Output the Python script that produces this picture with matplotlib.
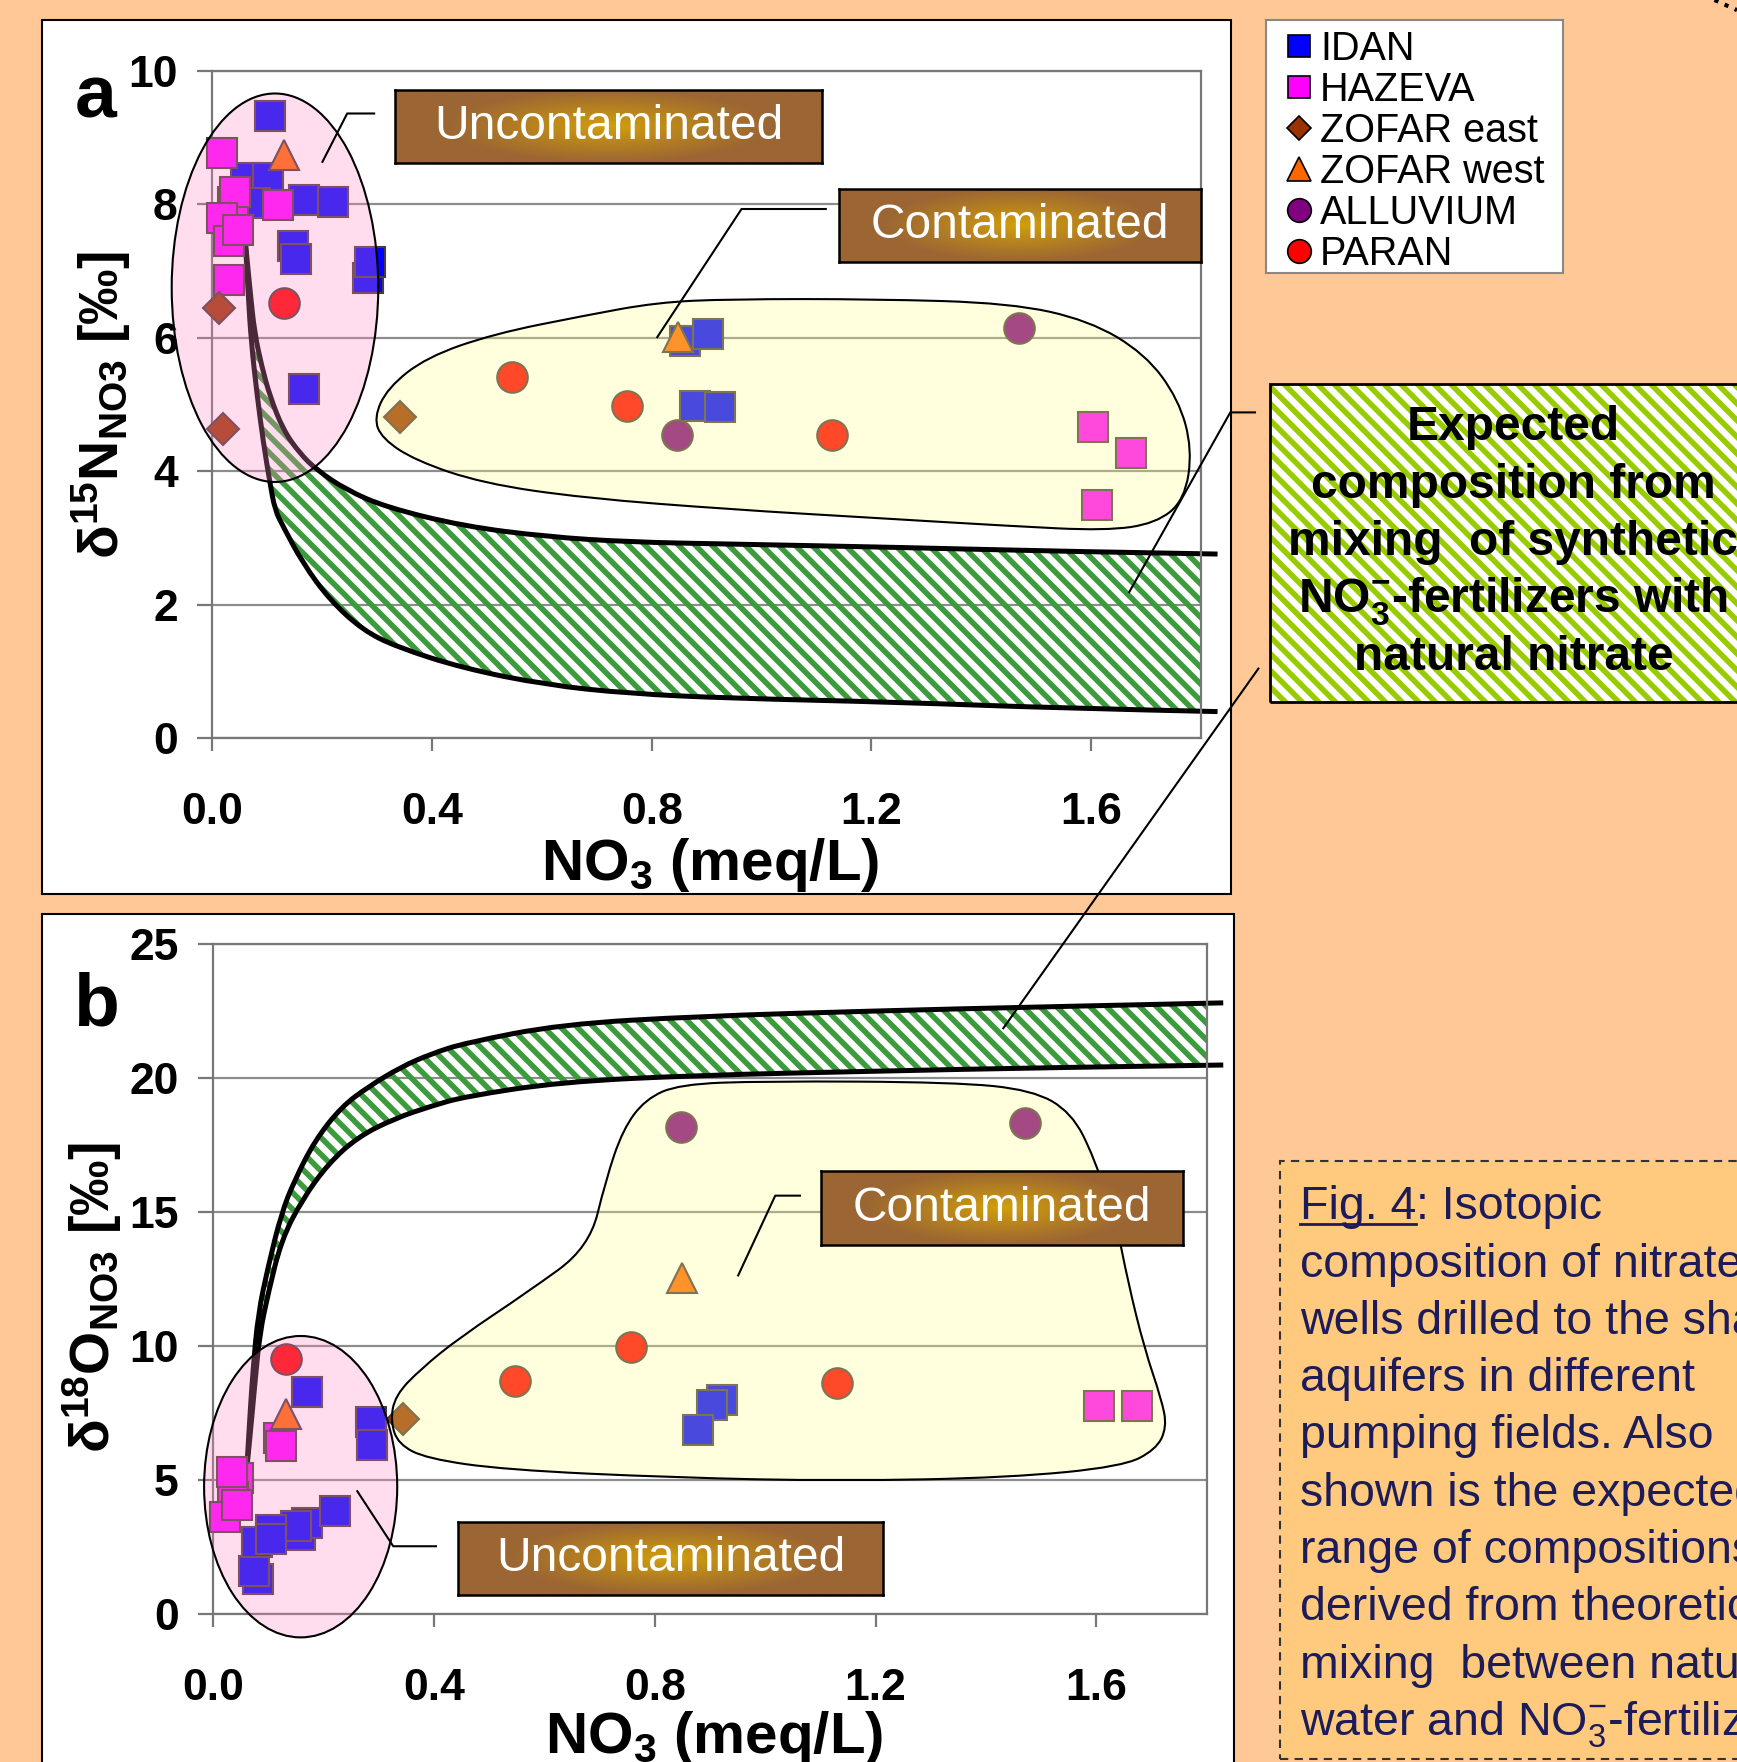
import numpy as np
import matplotlib
matplotlib.use('Agg')
import matplotlib.pyplot as plt
from matplotlib.path import Path
from matplotlib.patches import PathPatch, Ellipse, Rectangle
from matplotlib.lines import Line2D
from matplotlib.ticker import FormatStrFormatter

plt.rcParams['font.family'] = ['Liberation Sans', 'DejaVu Sans']
plt.rcParams['mathtext.fontset'] = 'custom'
plt.rcParams['mathtext.rm'] = 'Liberation Sans'
plt.rcParams['mathtext.bf'] = 'Liberation Sans:bold'
plt.rcParams['mathtext.it'] = 'Liberation Sans:italic'
plt.rcParams['hatch.linewidth'] = 4.0

# ---------------- data ----------------
# panel a : d15N vs NO3
a_idan_x = [0.105, 0.062, 0.102, 0.077, 0.167, 0.219, 0.146, 0.153, 0.284, 0.287, 0.167, 0.860, 0.903, 0.879, 0.924]
a_idan_y = [9.32, 8.39, 8.39, 8.02, 8.06, 8.04, 7.38, 7.18, 6.89, 7.14, 5.24, 5.95, 6.06, 4.98, 4.97]
a_haz_x = [0.017, 0.038, 0.041, 0.017, 0.031, 0.046, 0.031, 0.120, 1.604, 1.673, 1.610]
a_haz_y = [8.77, 8.04, 8.19, 7.79, 7.45, 7.62, 6.87, 7.99, 4.66, 4.28, 3.50]
a_zeast_x = [0.012, 0.020, 0.341]
a_zeast_y = [6.44, 4.64, 4.81]
a_zwest_x = [0.130, 0.848]
a_zwest_y = [8.74, 6.01]
a_alluv_x = [1.469, 0.846]
a_alluv_y = [6.14, 4.55]
a_paran_x = [0.130, 0.546, 0.754, 1.128]
a_paran_y = [6.52, 5.42, 4.98, 4.55]

# mixing envelope, panel a
a_up_x = [0.060, 0.069, 0.077, 0.090, 0.105, 0.129, 0.159, 0.190, 0.244, 0.317, 0.456, 0.608, 0.759, 0.941, 1.25, 1.55, 1.83]
a_up_y = [7.45, 6.67, 6.07, 5.57, 5.12, 4.62, 4.27, 4.02, 3.72, 3.46, 3.18, 3.02, 2.94, 2.91, 2.86, 2.80, 2.76]
a_lo_x = [0.060, 0.065, 0.071, 0.081, 0.093, 0.105, 0.114, 0.129, 0.165, 0.214, 0.274, 0.335, 0.456, 0.608, 0.759, 0.941, 1.25, 1.55, 1.83]
a_lo_y = [7.45, 6.67, 5.92, 5.17, 4.42, 3.82, 3.42, 3.17, 2.62, 2.07, 1.62, 1.37, 1.05, 0.80, 0.67, 0.60, 0.54, 0.45, 0.40]

# panel b : d18O vs NO3
b_idan_x = [0.081, 0.074, 0.157, 0.169, 0.149, 0.220, 0.078, 0.105, 0.105, 0.170, 0.286, 0.288, 0.921, 0.903, 0.878]
b_idan_y = [1.29, 1.60, 2.95, 3.40, 3.28, 3.83, 2.66, 3.12, 2.78, 8.28, 7.16, 6.29, 7.97, 7.80, 6.84]
b_haz_x = [0.045, 0.036, 0.033, 0.021, 0.043, 0.118, 0.123, 1.604, 1.673]
b_haz_y = [5.05, 4.36, 5.29, 3.59, 4.04, 6.55, 6.25, 7.76, 7.76]
b_zeast_x = [0.344]
b_zeast_y = [7.26]
b_zwest_x = [0.132, 0.850]
b_zwest_y = [7.47, 12.54]
b_alluv_x = [0.848, 1.470]
b_alluv_y = [18.16, 18.33]
b_paran_x = [0.132, 0.547, 0.756, 1.130]
b_paran_y = [9.49, 8.68, 9.94, 8.60]

b_up_x = [0.060, 0.066, 0.072, 0.081, 0.099, 0.123, 0.147, 0.184, 0.232, 0.280, 0.340, 0.395, 0.455, 0.63, 0.88, 1.2, 1.5, 1.83]
b_up_y = [5.3, 7.4, 9.2, 11.2, 12.95, 14.94, 16.18, 17.67, 18.92, 19.66, 20.41, 20.9, 21.3, 22.0, 22.3, 22.5, 22.65, 22.8]
b_lo_x = [0.060, 0.068, 0.076, 0.084, 0.099, 0.123, 0.160, 0.208, 0.262, 0.328, 0.395, 0.455, 0.63, 0.88, 1.2, 1.5, 1.83]
b_lo_y = [5.3, 7.0, 8.8, 10.46, 11.95, 13.94, 15.43, 16.8, 17.8, 18.48, 18.95, 19.3, 19.85, 20.1, 20.25, 20.38, 20.48]

# outlines of the "contaminated" fields
a_field_x = [0.294, 0.319, 0.390, 0.513, 0.676, 0.809, 0.942, 1.208, 1.453, 1.596, 1.698, 1.759, 1.784, 1.770,
             1.718, 1.626, 1.453, 1.208, 0.942, 0.676, 0.492, 0.370, 0.309]
a_field_y = [4.80, 5.25, 5.71, 6.06, 6.33, 6.53, 6.58, 6.58, 6.52, 6.26, 5.76, 5.08, 4.33, 3.57,
             3.22, 3.11, 3.18, 3.30, 3.43, 3.60, 3.82, 4.16, 4.49]
b_field_x = [0.321, 0.329, 0.376, 0.447, 0.569, 0.681, 0.711, 0.742, 0.783, 0.844, 0.996, 1.342, 1.484, 1.555,
             1.596, 1.637, 1.657, 1.687, 1.718, 1.728, 1.708, 1.647, 1.443, 1.138, 0.834, 0.529, 0.386, 0.335]
b_field_y = [7.17, 8.14, 9.14, 10.32, 12.0, 13.67, 16.19, 18.08, 19.21, 19.76, 19.88, 19.84, 19.55, 18.71,
             17.03, 14.51, 12.42, 9.90, 8.01, 6.96, 6.12, 5.49, 5.08, 4.95, 5.08, 5.37, 5.79, 6.33]

series = ['IDAN', 'HAZEVA', 'ZOFAR east', 'ZOFAR west', 'ALLUVIUM', 'PARAN']
colors = ['#0000FF', '#FF00FF', '#993300', '#FF6600', '#800080', '#FF0000']
markers = ['s', 's', 'D', '^', 'o', 'o']
msizes = [22, 22, 16, 22, 22, 22]

caption = ['composition of nitrate in', 'wells drilled to the shallow', 'aquifers in different',
           'pumping fields. Also', 'shown is the expected', 'range of compositions',
           'derived from theoretical', 'mixing  between natural', 'water and NO$_3^{-}$-fertilizers.']
expected_lines = ['Expected', 'composition from', 'mixing  of synthetic',
                  r'NO$_\mathbf{3}^\mathbf{-}$-fertilizers with', 'natural nitrate']

BG = '#FFC896'
CAPBG = '#FFC97E'
EDGE = '#4a3a3a'
GREEN = '#3C9B3C'
YGREEN = '#99CC00'
PINK = (1.0, 0.541, 0.773, 0.29)
YELLOW = (1.0, 1.0, 0.553, 0.29)

W, H = 1546.0, 1568.0
def fx(x):
    return x / W
def fy(y):
    return 1 - y / H

def blob(xs, ys):
    pts = np.column_stack([xs, ys])
    mids = (pts + np.roll(pts, -1, axis=0)) / 2
    verts = [mids[-1]]
    codes = [Path.MOVETO]
    for i in range(len(pts)):
        verts += [pts[i], mids[i]]
        codes += [Path.CURVE3, Path.CURVE3]
    verts.append(mids[-1])
    codes.append(Path.CLOSEPOLY)
    return Path(verts, codes)

def smooth(xs, ys):
    # open quadratic spline through the read points (drawn by matplotlib's path renderer)
    p = np.column_stack([xs, ys])
    n = len(p)
    verts = []
    codes = []
    for i in range(1, n - 2):
        verts += [p[i], (p[i] + p[i + 1]) / 2]
        codes += [Path.CURVE3, Path.CURVE3]
    verts += [p[n - 2], p[n - 1]]
    codes += [Path.CURVE3, Path.CURVE3]
    return p[0], verts, codes

def curve_path(xs, ys):
    p0, v, c = smooth(xs, ys)
    return Path([p0] + v, [Path.MOVETO] + c)

def band_path(ux, uy, lx, ly):
    p0, v1, c1 = smooth(ux, uy)
    q0, v2, c2 = smooth(lx[::-1], ly[::-1])
    verts = [p0] + v1 + [q0] + v2 + [p0]
    codes = [Path.MOVETO] + c1 + [Path.LINETO] + c2 + [Path.CLOSEPOLY]
    return Path(verts, codes)

fig = plt.figure(figsize=(17.37, 17.62), dpi=100, facecolor=BG)

# white panels
fig.add_artist(Rectangle((fx(37), fy(796)), fx(1096) - fx(37), fy(18) - fy(796), transform=fig.transFigure,
                         facecolor='white', edgecolor='black', lw=1.5, zorder=-5))
fig.add_artist(Rectangle((fx(37), fy(1600)), fx(1098) - fx(37), fy(813) - fy(1600), transform=fig.transFigure,
                         facecolor='white', edgecolor='black', lw=1.5, zorder=-5))

axA = fig.add_axes([fx(189), fy(657), fx(1069) - fx(189), fy(63) - fy(657)])
axB = fig.add_axes([fx(190), fy(1436), fx(1074) - fx(190), fy(840) - fy(1436)])

def style(ax, ymax, ystep):
    ax.set_facecolor('none')
    ax.set_xlim(0, 1.8)
    ax.set_ylim(0, ymax)
    ax.set_xticks([0, 0.4, 0.8, 1.2, 1.6])
    ax.xaxis.set_major_formatter(FormatStrFormatter('%.1f'))
    ax.set_yticks(np.arange(0, ymax + 1, ystep))
    ax.yaxis.grid(True, color='#8c8c8c', lw=1.6)
    ax.set_axisbelow(True)
    for s in ax.spines.values():
        s.set_color('#777777')
        s.set_linewidth(1.6)
    ax.tick_params(axis='y', length=11, width=1.6, color='#777777', pad=14, labelsize=32)
    ax.tick_params(axis='x', length=9, width=1.6, color='#777777', pad=30, labelsize=32)
    for lab in ax.get_xticklabels() + ax.get_yticklabels():
        lab.set_fontweight('bold')

style(axA, 10, 2)
style(axB, 25, 5)

def draw_panel(ax, pts, up_x, up_y, lo_x, lo_y):
    ax.add_patch(PathPatch(band_path(up_x, up_y, lo_x, lo_y), facecolor='none', edgecolor=GREEN,
                           hatch='\\\\', lw=0, zorder=1))
    for xs, ys in [(up_x, up_y), (lo_x, lo_y)]:
        ax.add_patch(PathPatch(curve_path(xs, ys), fill=False, edgecolor='black', lw=3.6,
                               zorder=2, clip_on=False, capstyle='butt'))
    for (x, y), c, m, ms in zip(pts, colors, markers, msizes):
        ax.plot(x, y, ls='none', marker=m, ms=ms, mfc=c, mec=EDGE, mew=1.5, zorder=3, clip_on=False)

draw_panel(axA, [(a_idan_x, a_idan_y), (a_haz_x, a_haz_y), (a_zeast_x, a_zeast_y),
                 (a_zwest_x, a_zwest_y), (a_alluv_x, a_alluv_y), (a_paran_x, a_paran_y)],
           a_up_x, a_up_y, a_lo_x, a_lo_y)
draw_panel(axB, [(b_idan_x, b_idan_y), (b_haz_x, b_haz_y), (b_zeast_x, b_zeast_y),
                 (b_zwest_x, b_zwest_y), (b_alluv_x, b_alluv_y), (b_paran_x, b_paran_y)],
           b_up_x, b_up_y, b_lo_x, b_lo_y)

# field overlays
axA.add_patch(Ellipse((0.114, 6.75), 0.376, 5.82, facecolor=PINK, edgecolor='black', lw=1.5, zorder=4, clip_on=False))
axA.add_patch(PathPatch(blob(a_field_x, a_field_y), facecolor=YELLOW, edgecolor='black', lw=1.5, zorder=4, clip_on=False))
axB.add_patch(PathPatch(blob(b_field_x, b_field_y), facecolor=YELLOW, edgecolor='black', lw=1.5, zorder=4, clip_on=False))
axB.add_patch(Ellipse((0.158, 4.74), 0.350, 11.25, facecolor=PINK, edgecolor='black', lw=1.5, zorder=4, clip_on=False))

# axis labels and panel letters
fig.text(fx(632), fy(783), r'NO$_\mathbf{3}$ (meq/L)', ha='center', va='baseline', fontsize=42, fontweight='bold')
fig.text(fx(636), fy(1560), r'NO$_\mathbf{3}$ (meq/L)', ha='center', va='baseline', fontsize=42, fontweight='bold')
fig.text(fx(90), fy(361), r'δ$^{\mathbf{15}}$N$_{\mathbf{NO3}}$ [‰]', rotation=90, ha='center', va='center',
         fontsize=40, fontweight='bold')
fig.text(fx(82), fy(1155), r'δ$^{\mathbf{18}}$O$_{\mathbf{NO3}}$ [‰]', rotation=90, ha='center', va='center',
         fontsize=40, fontweight='bold')
fig.text(fx(85), fy(105), 'a', ha='center', va='baseline', fontsize=54, fontweight='bold')
fig.text(fx(85), fy(913), 'b', ha='center', va='baseline', fontsize=54, fontweight='bold')

# leader lines
leaders = [([333, 309, 287], [101, 101, 144]),
           ([735, 660, 585], [186, 186, 300]),
           ([712, 690, 657], [1064, 1064, 1135]),
           ([388, 350, 318], [1376, 1376, 1327]),
           ([1117, 1095, 1005], [367, 367, 527]),
           ([1120, 893], [595, 915])]
for xs, ys in leaders:
    fig.add_artist(Line2D([fx(v) for v in xs], [fy(v) for v in ys], color='black', lw=1.5,
                          transform=fig.transFigure, zorder=8))

# brown label boxes with golden glow
u, v = np.meshgrid(np.linspace(-1, 1, 200), np.linspace(-1, 1, 60))
t = np.clip(np.sqrt((u / 0.75) ** 2 + (v / 1.0) ** 2), 0, 1) ** 0.9
c_in = np.array([0.83, 0.63, 0.04])
c_out = np.array([0.61, 0.40, 0.20])
grad = c_in * (1 - t[..., None]) + c_out * t[..., None]

def label_box(x0, y0, x1, y1, txt):
    lb = fig.add_axes([fx(x0), fy(y1), fx(x1) - fx(x0), fy(y0) - fy(y1)])
    lb.imshow(grad, aspect='auto', extent=(0, 1, 0, 1), interpolation='bilinear')
    lb.set_xticks([])
    lb.set_yticks([])
    for s in lb.spines.values():
        s.set_color('black')
        s.set_linewidth(1.8)
    lb.text(0.5, 0.5, txt, transform=lb.transAxes, ha='center', va='center', color='white', fontsize=34.5)
    lb.set_zorder(10)

label_box(352, 80, 732, 145, 'Uncontaminated')
label_box(747, 168, 1069, 233, 'Contaminated')
label_box(731, 1042, 1053, 1108, 'Contaminated')
label_box(408, 1354, 786, 1419, 'Uncontaminated')

# legend
lax = fig.add_axes([fx(1127), fy(243), fx(1391) - fx(1127), fy(18) - fy(243)])
lax.set_xlim(1127, 1391)
lax.set_ylim(243, 18)
lax.set_xticks([])
lax.set_yticks([])
for s in lax.spines.values():
    s.set_color('#888888')
    s.set_linewidth(1.5)
leg_ms = [16, 16, 12, 17, 17, 17]
for i, (name, c, m) in enumerate(zip(series, colors, markers)):
    yc = 41 + i * 36.5
    lax.plot([1156], [yc], marker=m, ms=leg_ms[i], mfc=c, mec='black', mew=1.2, ls='none')
    lax.text(1175, yc + 12.5, name, fontsize=28.5, va='baseline', ha='left')
lax.set_zorder(10)

# expected composition box
fig.add_artist(Rectangle((fx(1130), fy(625)), 0.4, fy(342) - fy(625), transform=fig.transFigure,
                         facecolor='white', edgecolor=YGREEN, hatch='\\\\', lw=0, zorder=1))
fig.add_artist(Rectangle((fx(1130), fy(625)), 0.4, fy(342) - fy(625), transform=fig.transFigure,
                         fill=False, edgecolor='black', lw=2, zorder=2))
for i, line in enumerate(expected_lines):
    fig.text(fx(1347), fy(392 + i * 51), line, ha='center', va='baseline', fontsize=34.5,
             fontweight='bold', zorder=3)

# caption box
fig.add_artist(Rectangle((fx(1139), fy(1565)), 0.4, fy(1033) - fy(1565), transform=fig.transFigure,
                         facecolor=CAPBG, edgecolor='#333333', lw=1.5, linestyle=(0, (4, 3)), zorder=1))
navy = '#1c1c5a'
t0 = fig.text(fx(1157), fy(1085), 'Fig. 4', fontsize=33.5, color=navy, va='baseline', zorder=3)
fig.canvas.draw()
bb = t0.get_window_extent(renderer=fig.canvas.get_renderer()).transformed(fig.transFigure.inverted())
fig.text(bb.x1, fy(1085), ': Isotopic', fontsize=33.5, color=navy, va='baseline', zorder=3)
fig.add_artist(Line2D([bb.x0, bb.x1], [fy(1089), fy(1089)], color=navy, lw=2, transform=fig.transFigure, zorder=3))
for i, line in enumerate(caption):
    fig.text(fx(1157), fy(1136 + i * 51), line, fontsize=33.5, color=navy, va='baseline', zorder=3)

# dotted arc fragment at the top right corner
fig.add_artist(Line2D([fx(1526), fx(1546)], [fy(0), fy(9)], color='black', lw=3, ls=':',
                      transform=fig.transFigure, zorder=3))

fig.savefig('out.png', dpi=100, facecolor=BG)
